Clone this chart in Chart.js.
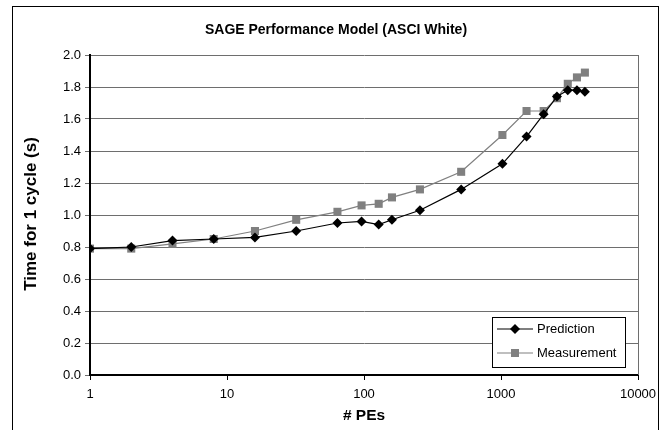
<!DOCTYPE html>
<html>
<head>
<meta charset="utf-8">
<title>SAGE Performance Model</title>
<script src="https://cdn.jsdelivr.net/npm/chart.js@4.4.0/dist/chart.umd.min.js"></script>
<style>
    body { margin: 0; background: #fff; }
    #wrap { width: 665px; height: 430px; }
</style>
</head>
<body>
<div id="wrap"><canvas id="sageChart" width="665" height="430"></canvas></div>
<script>
// processor counts and cycle times (s)
const peCounts = [1, 2, 4, 8, 16, 32, 64, 96, 128, 160, 256, 512, 1024, 1536, 2048, 2560, 3072, 3584, 4096];
const prediction = [0.79, 0.80, 0.84, 0.85, 0.86, 0.90, 0.95, 0.96, 0.94, 0.97, 1.03, 1.16, 1.32, 1.49, 1.63, 1.74, 1.78, 1.78, 1.77];
const measurement = [0.79, 0.79, 0.82, 0.85, 0.90, 0.97, 1.02, 1.06, 1.07, 1.11, 1.16, 1.27, 1.50, 1.65, 1.65, 1.73, 1.82, 1.86, 1.89];
const xTickValues = [1, 10, 100, 1000, 10000];
const yTickStep = 0.2;

const FONT = 'Arial, "Liberation Sans", sans-serif';
const GRID_COLOR = '#6e6e6e';
const MEAS_COLOR = '#808080';

function toPoints(values) {
    return peCounts.map((pe, i) => ({ x: pe, y: values[i] }));
}

function drawMarker(ctx, style, x, y, r, color) {
    ctx.save();
    ctx.fillStyle = color;
    ctx.beginPath();
    if (style === 'rectRot') {
        ctx.moveTo(x, y - r);
        ctx.lineTo(x + r, y);
        ctx.lineTo(x, y + r);
        ctx.lineTo(x - r, y);
        ctx.closePath();
    } else {
        const s = r * Math.SQRT1_2;
        ctx.rect(x - s, y - s, 2 * s, 2 * s);
    }
    ctx.fill();
    ctx.restore();
}

// outer border and right edge of plot area
const framePlugin = {
    id: 'frame',
    afterDraw(chart) {
        const { ctx, chartArea } = chart;
        ctx.save();
        ctx.strokeStyle = '#000';
        ctx.lineWidth = 1;
        ctx.strokeRect(12.5, 6.5, 646, 440);
        ctx.strokeStyle = GRID_COLOR;
        ctx.beginPath();
        ctx.moveTo(Math.round(chartArea.right) + 0.5, chartArea.top);
        ctx.lineTo(Math.round(chartArea.right) + 0.5, chartArea.bottom);
        ctx.stroke();
        ctx.restore();
    }
};

// chart title and axis titles
const labelsPlugin = {
    id: 'labels',
    afterDraw(chart) {
        const ctx = chart.ctx;
        ctx.save();
        ctx.fillStyle = '#000';
        ctx.textAlign = 'center';
        ctx.textBaseline = 'middle';
        ctx.font = 'bold 14px ' + FONT;
        ctx.fillText('SAGE Performance Model (ASCI White)', 336, 30);
        ctx.font = 'bold 15.5px ' + FONT;
        ctx.fillText('# PEs', 364, 416);
        ctx.translate(31, 214);
        ctx.rotate(-Math.PI / 2);
        ctx.font = 'bold 17px ' + FONT;
        ctx.fillText('Time for 1 cycle (s)', 0, 0);
        ctx.restore();
    }
};

// boxed legend inside the plot, bottom right
const legendPlugin = {
    id: 'boxLegend',
    afterDraw(chart) {
        const ctx = chart.ctx;
        const box = { x: 492.5, y: 317.5, w: 133, h: 50 };
        ctx.save();
        ctx.fillStyle = '#fff';
        ctx.fillRect(box.x, box.y, box.w, box.h);
        ctx.strokeStyle = '#000';
        ctx.lineWidth = 1;
        ctx.strokeRect(box.x, box.y, box.w, box.h);
        ctx.font = '13px ' + FONT;
        ctx.textBaseline = 'middle';
        chart.data.datasets.forEach((ds, i) => {
            const y = 329 + i * 24;
            ctx.strokeStyle = ds.borderColor;
            ctx.lineWidth = 1.2;
            ctx.beginPath();
            ctx.moveTo(497, y);
            ctx.lineTo(533, y);
            ctx.stroke();
            drawMarker(ctx, ds.pointStyle, 515, y, ds.pointRadius, ds.backgroundColor);
            ctx.fillStyle = '#000';
            ctx.fillText(ds.label, 537, y);
        });
        ctx.restore();
    }
};

const ctx = document.getElementById('sageChart').getContext('2d');
const sageChart = new Chart(ctx, {
    type: 'line',
    data: {
        datasets: [{
            label: 'Prediction',
            data: toPoints(prediction),
            borderColor: '#000',
            backgroundColor: '#000',
            borderWidth: 1.2,
            pointStyle: 'rectRot',
            pointRadius: 5,
            pointBorderWidth: 0,
            tension: 0
        }, {
            label: 'Measurement',
            data: toPoints(measurement),
            borderColor: MEAS_COLOR,
            backgroundColor: MEAS_COLOR,
            borderWidth: 1.2,
            pointStyle: 'rect',
            pointRadius: 5.7,
            pointBorderWidth: 0,
            tension: 0
        }]
    },
    options: {
        responsive: false,
        animation: false,
        layout: {
            padding: { left: 0, top: 55, right: 27, bottom: 0 }
        },
        plugins: {
            legend: { display: false },
            tooltip: { enabled: false }
        },
        scales: {
            x: {
                type: 'logarithmic',
                min: 1,
                max: 10000,
                afterFit: function(scale) { scale.height = 55; },
                afterBuildTicks: function(scale) {
                    scale.ticks = xTickValues.map(v => ({ value: v }));
                },
                grid: {
                    drawOnChartArea: false,
                    drawTicks: true,
                    tickLength: 5,
                    color: '#000'
                },
                border: { color: '#000', width: 2 },
                ticks: {
                    autoSkip: false,
                    maxRotation: 0,
                    padding: 7,
                    color: '#000',
                    font: { family: FONT, size: 13 },
                    callback: function(value) { return String(value); }
                }
            },
            y: {
                min: 0,
                max: 2,
                afterFit: function(scale) { scale.width = 90; },
                grid: {
                    color: GRID_COLOR,
                    lineWidth: 1,
                    drawTicks: true,
                    tickLength: 5
                },
                border: { color: '#000', width: 2 },
                ticks: {
                    stepSize: yTickStep,
                    padding: 4,
                    color: '#000',
                    font: { family: FONT, size: 13 },
                    callback: function(value) { return value.toFixed(1); }
                }
            }
        }
    },
    plugins: [framePlugin, labelsPlugin, legendPlugin]
});
</script>
</body>
</html>
